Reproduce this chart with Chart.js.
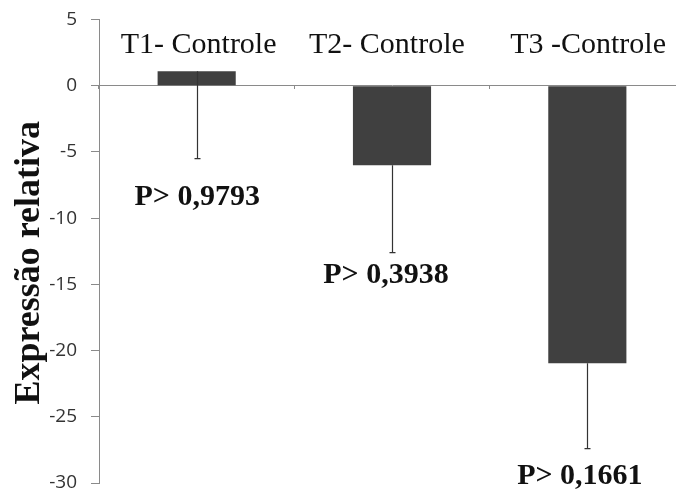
<!DOCTYPE html>
<html>
<head>
<meta charset="utf-8">
<script src="https://cdn.jsdelivr.net/npm/chart.js@4/dist/chart.umd.min.js"></script>
<style>
html,body{margin:0;padding:0;background:#fff;overflow:hidden;}
#wrap{width:690px;height:493px;position:relative;}
</style>
</head>
<body>
<div id="wrap"><canvas id="c"></canvas></div>
<script>
// ---- data ----
const categories = ['T1- Controle', 'T2- Controle', 'T3 -Controle'];
const values = [1.1, -6.0, -20.95];
const errorMinus = [6.6, 6.6, 6.45];
const pValueLabels = ['P> 0,9793', 'P> 0,3938', 'P> 0,1661'];
const yMin = -30, yMax = 5, yStep = 5;
const yTitle = 'Expressão relativa';
// annotation anchors (category index / axis value)
const catLabelX = [0.01, 0.974, 2.004];
const catLabelY = 2.45;
const pLabelX = [0.003, 0.969, 1.962];
const pLabelY = [-9.04, -14.9, -30.1];

const AXIS_GRAY = '#8a8a8a';

const annot = {
  id: 'annot',
  afterDatasetsDraw(chart) {
    const ctx = chart.ctx;
    const xs = chart.scales.x, ys = chart.scales.y;
    ctx.save();
    // error bars
    ctx.strokeStyle = '#333';
    ctx.lineWidth = 1.2;
    values.forEach((v, i) => {
      const x = Math.round(xs.getPixelForValue(i)) + 0.5;
      const y1 = ys.getPixelForValue(v);
      const y2 = ys.getPixelForValue(v - errorMinus[i]);
      ctx.beginPath();
      ctx.moveTo(x, y1);
      ctx.lineTo(x, y2);
      ctx.moveTo(x - 3, y2);
      ctx.lineTo(x + 3, y2);
      ctx.stroke();
    });
    // category labels
    ctx.fillStyle = '#111';
    ctx.textAlign = 'center';
    ctx.textBaseline = 'alphabetic';
    ctx.font = '30px "Liberation Serif", "Times New Roman", serif';
    categories.forEach((c, i) => {
      ctx.fillText(c, xs.getPixelForValue(catLabelX[i]), ys.getPixelForValue(catLabelY));
    });
    // p-value labels
    ctx.font = 'bold 30px "Liberation Serif", "Times New Roman", serif';
    pValueLabels.forEach((t, i) => {
      ctx.fillText(t, xs.getPixelForValue(pLabelX[i]), ys.getPixelForValue(pLabelY[i]));
    });
    // y title
    ctx.font = 'bold 36px "Liberation Serif", "Times New Roman", serif';
    ctx.translate(39, (chart.chartArea.top + chart.chartArea.bottom) / 2 + 11.5);
    ctx.rotate(-Math.PI / 2);
    ctx.fillText(yTitle, 0, 0);
    ctx.restore();
  }
};

new Chart(document.getElementById('c'), {
  type: 'bar',
  data: {
    labels: categories,
    datasets: [{
      data: values,
      backgroundColor: '#404040',
      borderWidth: 0,
      categoryPercentage: 1,
      barPercentage: 0.4
    }]
  },
  options: {
    responsive: true,
    maintainAspectRatio: false,
    devicePixelRatio: 1,
    animation: false,
    layout: { padding: { left: 0, right: 5, top: 19.5, bottom: 10 } },
    plugins: { legend: { display: false }, tooltip: { enabled: false } },
    scales: {
      x: {
        type: 'category',
        position: { y: 0 },
        offset: true,
        grid: { offset: true, drawOnChartArea: false, drawTicks: true, tickLength: 3, color: AXIS_GRAY },
        border: { display: true, color: AXIS_GRAY, width: 1 },
        ticks: { display: false, padding: 0 },
        afterFit(scale) { scale.height = 0; scale.paddingLeft = 0; scale.paddingRight = 0; }
      },
      y: {
        min: yMin, max: yMax,
        ticks: {
          stepSize: yStep,
          padding: 14,
          color: '#333',
          font: { family: '"Open Sans", "DejaVu Sans", sans-serif', size: 19, lineHeight: 1 }
        },
        grid: { drawOnChartArea: false, drawTicks: true, tickLength: 8, color: AXIS_GRAY },
        border: { display: true, color: AXIS_GRAY, width: 1 },
        afterFit(scale) { scale.width = 99; scale.paddingTop = 0; scale.paddingBottom = 0; }
      }
    }
  },
  plugins: [annot]
});
</script>
</body>
</html>
